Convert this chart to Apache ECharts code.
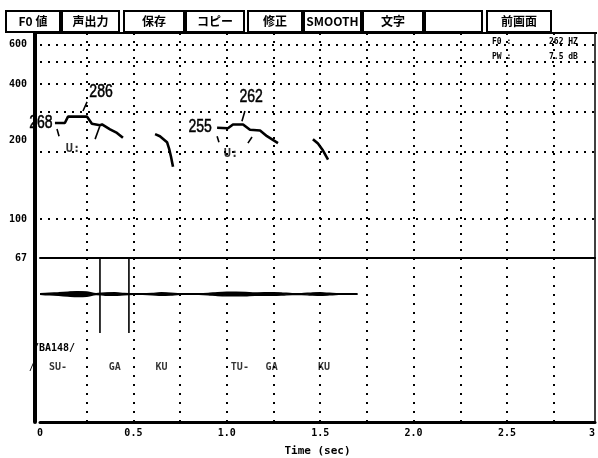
<!DOCTYPE html>
<html><head><meta charset="utf-8">
<script src="https://cdn.jsdelivr.net/npm/echarts@6/dist/echarts.min.js"></script>
<style>html,body{margin:0;padding:0;background:#fff}#c{width:598px;height:458px}</style>
</head><body><div id="c"></div>
<script>
// ---------- data ----------
const toolbarLabels = ['F0 値', '声出力', '保存', 'コピー', '修正', 'SMOOTH', '文字', '', '前画面'];
const yTickLabels = [67, 100, 200, 400, 600];
const yGridValues = [100, 200, 300, 400, 500, 600];
const xGridValues = [0.25, 0.5, 0.75, 1, 1.25, 1.5, 1.75, 2, 2.25, 2.5, 2.75];
const xTickValues = [0, 0.5, 1, 1.5, 2, 2.5, 2.971];
const xTickTexts = ['0', '0.5', '1.0', '1.5', '2.0', '2.5', '3'];

const seg1Time = [0.080, 0.133, 0.150, 0.252, 0.278, 0.321, 0.332, 0.375, 0.412, 0.444];
const seg1Hz   = [268, 268, 286, 286, 266, 262, 264, 251, 242, 230];
const seg2Time = [0.616, 0.642, 0.680, 0.691, 0.701, 0.712];
const seg2Hz   = [239, 234, 220, 206, 190, 171];
const seg3Time = [0.948, 1.006, 1.033, 1.087, 1.124, 1.178, 1.215, 1.274];
const seg3Hz   = [255, 254, 264, 264, 250, 248, 234, 218];
const seg4Time = [1.461, 1.488, 1.515, 1.542];
const seg4Hz   = [227, 217, 202, 184];

// small tick marks and pointer strokes
const markStartTime = [0.091, 0.295, 0.948, 1.113, 0.252, 1.097];
const markStartHz   = [252, 227, 234, 218, 333, 303];
const markEndTime   = [0.102, 0.320, 0.958, 1.135, 0.230, 1.081];
const markEndHz     = [234, 259, 220, 232, 303, 273];

const annoTexts = ['268', '286', '255', '262'];
const annoTime  = [0.005, 0.327, 0.857, 1.130];
const annoHz    = [268, 369, 258, 350];
const vowelTexts = ['U:', 'U:'];
const vowelTime  = [0.177, 1.022];
const vowelHz    = [206, 196];

const waveTime = [0.00,0.05,0.10,0.15,0.20,0.25,0.30,0.35,0.40,0.45,0.50,0.55,0.60,0.65,0.70,0.75,0.80,0.85,0.90,0.95,1.00,1.05,1.10,1.15,1.20,1.25,1.30,1.35,1.40,1.45,1.50,1.55,1.60,1.65,1.70];
const waveAmp  = [0.02,0.05,0.08,0.12,0.15,0.13,0.03,0.07,0.08,0.04,0.02,0.02,0.04,0.08,0.06,0.02,0.02,0.02,0.04,0.09,0.11,0.11,0.10,0.07,0.08,0.08,0.06,0.03,0.03,0.06,0.08,0.05,0.02,0.02,0.02];

const boundTime = [0.321, 0.476];
const boundTop = 2.2, boundBottom = -2.37;

const syllables = ['SU-', 'GA', 'KU', 'TU-', 'GA', 'KU'];
const syllableTime = [0.096, 0.40, 0.65, 1.07, 1.24, 1.52];
const syllableRow = -4.45;

const readoutNames = ['F0 :', 'PW :'];
const readoutValues = ['262 HZ', '7.5 dB'];

// ---------- layout ----------
const toolbarX = [[6,60],[62,119],[124,184],[186,244],[248,302],[304,361],[363,423],[425,482],[487,551]];
const mono = "'DejaVu Sans Mono', monospace";
const narrow = "'Liberation Sans', 'Noto Sans', sans-serif";
const dotted = { type: [2, 6], width: 2, color: '#000' };

const zip = (a, b) => a.map((v, i) => [v, b[i]]);
const f0Line = (t, f) => ({
  type: 'line', xAxisIndex: 0, yAxisIndex: 0, data: zip(t, f), symbol: 'none',
  lineStyle: { color: '#000', width: 2.6 }, silent: true, z: 5
});

const markData = [];
markStartTime.forEach((t, i) => {
  markData.push([t, markStartHz[i]], [markEndTime[i], markEndHz[i]], ['-', '-']);
});
const boundData = [];
boundTime.forEach(t => { boundData.push([t, boundTop], [t, boundBottom], ['-', '-']); });

const xLabelFmt = v => {
  const i = xTickValues.findIndex(x => Math.abs(x - v) < 1e-6);
  return i >= 0 ? xTickTexts[i] : '';
};

const graphic = [];
toolbarLabels.forEach((lab, i) => {
  const [x0, x1] = toolbarX[i];
  graphic.push({ type: 'rect', shape: { x: x0, y: 11, width: x1 - x0, height: 21 },
    style: { fill: '#fff', stroke: '#000', lineWidth: 2 } });
  graphic.push({ type: 'text', x: (x0 + x1) / 2, y: 21.5,
    style: { text: lab, fill: '#000', font: "bold 12px 'Noto Sans CJK JP', " + mono, align: 'center', verticalAlign: 'middle' } });
});
graphic.push({ type: 'line', shape: { x1: 33, y1: 33, x2: 597, y2: 33 }, style: { stroke: '#000', lineWidth: 2 } });
readoutNames.forEach((n, i) => {
  graphic.push({ type: 'text', x: 492, y: 42 + i * 15, style: { text: n, fill: '#000', font: 'bold 8px ' + mono, verticalAlign: 'middle' } });
  graphic.push({ type: 'text', x: 549, y: 42 + i * 15, style: { text: readoutValues[i], fill: '#000', font: 'bold 8px ' + mono, verticalAlign: 'middle' } });
});
graphic.push({ type: 'text', x: 33, y: 348, style: { text: '/BA148/', fill: '#000', font: 'bold 10px ' + mono, verticalAlign: 'middle' } });
graphic.push({ type: 'text', x: 29, y: 367, style: { text: '/', fill: '#000', font: '10px ' + mono, verticalAlign: 'middle' } });

const option = {
  backgroundColor: '#fff',
  animation: false,
  grid: [
    { left: 40, right: 3, top: 33, bottom: 200 },
    { left: 40, right: 3, top: 258, bottom: 36 }
  ],
  xAxis: [
    { type: 'value', gridIndex: 0, min: 0, max: 2.971,
      axisLine: { show: true, onZero: false, lineStyle: { color: '#000', width: 2 } },
      axisTick: { show: false, customValues: xGridValues }, axisLabel: { show: false },
      splitLine: { show: true, lineStyle: dotted } },
    { type: 'value', gridIndex: 1, min: 0, max: 2.971,
      axisLine: { show: true, onZero: false, lineStyle: { color: '#000', width: 3 } },
      axisTick: { show: false, customValues: xGridValues },
      axisLabel: { show: true, customValues: xTickValues, formatter: xLabelFmt, color: '#000', fontFamily: mono, fontWeight: 'bold', fontSize: 10, margin: 6, alignMaxLabel: 'right' },
      splitLine: { show: true, lineStyle: { type: [2, 7], width: 2, color: '#000' } },
      name: 'Time (sec)', nameLocation: 'middle', nameGap: 24,
      nameTextStyle: { color: '#000', fontFamily: mono, fontWeight: 'bold', fontSize: 11 } }
  ],
  yAxis: [
    { type: 'log', logBase: 10, gridIndex: 0, min: 67, max: 675, offset: 5,
      axisLine: { show: true, onZero: false, lineStyle: { color: '#000', width: 4 } },
      axisTick: { show: false, customValues: yGridValues },
      axisLabel: { customValues: yTickLabels, color: '#000', fontFamily: mono, fontWeight: 'bold', fontSize: 10, margin: 8,
        formatter: v => (Math.round(v) === 200 ? '{lift|200}' : String(Math.round(v))),
        rich: { lift: { color: '#000', fontFamily: mono, fontWeight: 'bold', fontSize: 10, padding: [0, 0, 22, 0] } } },
      splitLine: { show: true, lineStyle: dotted } },
    { type: 'value', gridIndex: 0, position: 'right',
      axisLine: { show: true, onZero: false, lineStyle: { color: '#000', width: 1.5 } },
      axisTick: { show: false }, axisLabel: { show: false }, splitLine: { show: false } },
    { type: 'value', gridIndex: 1, min: -7.8, max: 2.2, offset: 5,
      axisLine: { show: true, onZero: false, lineStyle: { color: '#000', width: 4 } },
      axisTick: { show: false }, axisLabel: { show: false }, splitLine: { show: false } },
    { type: 'value', gridIndex: 1, position: 'right',
      axisLine: { show: true, onZero: false, lineStyle: { color: '#000', width: 1.5 } },
      axisTick: { show: false }, axisLabel: { show: false }, splitLine: { show: false } }
  ],
  series: [
    f0Line(seg1Time, seg1Hz),
    f0Line(seg2Time, seg2Hz),
    f0Line(seg3Time, seg3Hz),
    f0Line(seg4Time, seg4Hz),
    { type: 'line', xAxisIndex: 0, yAxisIndex: 0, data: markData, symbol: 'none', connectNulls: false,
      lineStyle: { color: '#000', width: 1.6 }, silent: true },
    { type: 'scatter', xAxisIndex: 0, yAxisIndex: 0, symbolSize: 0, silent: true,
      data: vowelTexts.map((t, i) => ({ name: t, value: [vowelTime[i], vowelHz[i]] })),
      label: { show: true, position: 'inside', formatter: p => p.name, color: '#000', textBorderWidth: 0,
        fontFamily: mono, fontWeight: 'bold', fontSize: 12 } },
    { type: 'line', xAxisIndex: 1, yAxisIndex: 2, data: zip(waveTime, waveAmp), symbol: 'none', smooth: 0.3,
      lineStyle: { color: '#000', width: 1.4 }, areaStyle: { color: '#000', opacity: 1 }, silent: true },
    { type: 'line', xAxisIndex: 1, yAxisIndex: 2, data: zip(waveTime, waveAmp.map(a => -a)), symbol: 'none', smooth: 0.3,
      lineStyle: { color: '#000', width: 1.4 }, areaStyle: { color: '#000', opacity: 1 }, silent: true },
    { type: 'line', xAxisIndex: 1, yAxisIndex: 2, data: boundData, symbol: 'none', connectNulls: false,
      lineStyle: { color: '#000', width: 1.6 }, silent: true },
    { type: 'scatter', xAxisIndex: 1, yAxisIndex: 2, symbolSize: 0, silent: true,
      data: syllables.map((s, i) => ({ name: s, value: [syllableTime[i], syllableRow] })),
      label: { show: true, position: 'inside', formatter: p => p.name, color: '#000', textBorderWidth: 0,
        fontFamily: mono, fontWeight: 'bold', fontSize: 10 } }
  ],
  graphic: { elements: graphic }
};
const chart = echarts.init(document.getElementById('c'), null, { renderer: 'canvas' });
chart.setOption(option);

// value annotations placed through the chart's own scales, drawn in a narrow face
const annoElems = annoTexts.map((t, i) => {
  const p = chart.convertToPixel({ xAxisIndex: 0, yAxisIndex: 0 }, [annoTime[i], annoHz[i]]);
  return { type: 'text', x: p[0], y: p[1], scaleX: 0.78, z: 10,
    style: { text: t, fill: '#000', stroke: '#000', lineWidth: 0.5, font: '18px ' + narrow, align: 'center', verticalAlign: 'middle' } };
});
chart.setOption({ graphic: { elements: graphic.concat(annoElems) } });
</script>
</body></html>
